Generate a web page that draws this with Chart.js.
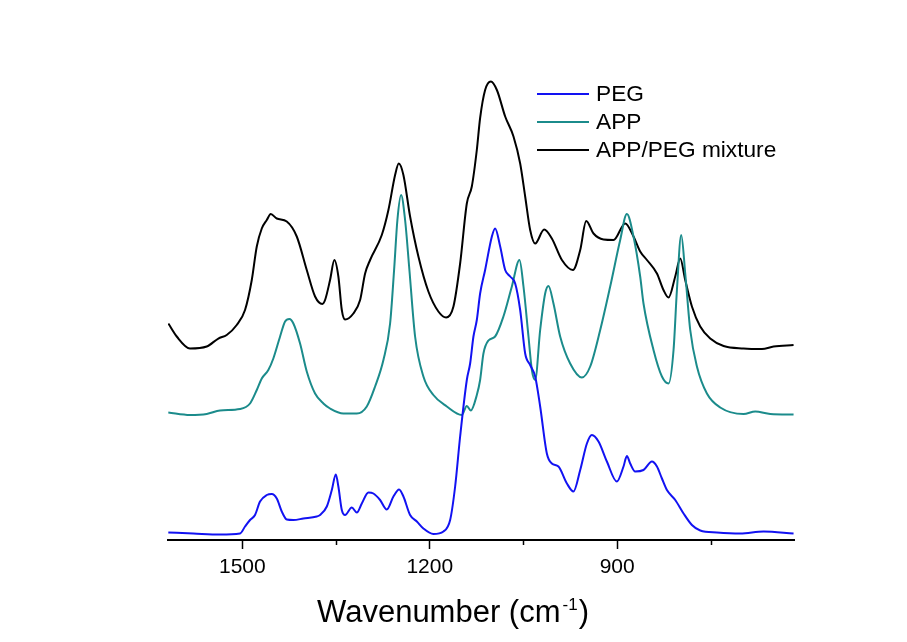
<!DOCTYPE html>
<html>
<head>
<meta charset="utf-8">
<script src="https://cdn.jsdelivr.net/npm/chart.js@4/dist/chart.umd.min.js"></script>
<style>
html,body{margin:0;padding:0;background:#ffffff;}
#wrap{width:907px;height:642px;position:relative;}
</style>
</head>
<body>
<div id="wrap"><canvas id="c" width="907" height="642"></canvas></div>
<script>
// ---- data ----
const seriesNames = ['PEG', 'APP', 'APP/PEG mixture'];

const pegWn = [1618.5,1578.5,1535.7,1503.7,1495.7,1487.7,1479.7,1471.7,1460.9,1452.9,1444.9,1436.9,1428.9,1418.3,1402.3,1380.9,1375.6,1364.8,1356.8,1350.4,1346.3,1340.8,1335.6,1324.8,1316.8,1308.8,1298.2,1290.2,1279.5,1268.8,1258.2,1249.1,1242.2,1231.5,1220.7,1210.2,1194.2,1178.1,1167.4,1159.4,1151.4,1140.7,1135.4,1130.1,1124.7,1119.4,1111.4,1100.6,1095.4,1087.3,1079.3,1071.3,1063.3,1055.3,1047.3,1039.3,1031.3,1023.3,1012.6,1004.6,994.0,980.5,970.0,959.2,948.5,940.5,929.9,916.5,900.5,889.9,884.5,879.2,871.2,857.9,844.4,836.4,828.4,820.4,807.1,793.8,780.4,767.1,740.4,703.0,665.7,617.7];
const pegAbs = [1.5,1.3,1.1,1.3,2.7,4.0,5.0,7.7,9.0,9.2,8.3,5.7,4.1,4.0,4.3,4.7,5.0,6.7,10.0,13.1,10.7,6.0,5.0,6.5,5.5,7.3,9.5,9.3,8.0,6.1,8.7,10.1,8.7,5.0,3.7,2.3,1.2,1.7,4.0,10.7,20.7,32.0,35.3,40.7,44.0,49.3,54.0,60.7,62.3,58.7,54.0,52.7,51.3,46.0,37.3,35.0,32.7,26.7,17.3,15.3,14.7,11.3,9.7,14.0,19.3,21.0,19.7,15.7,11.7,14.7,16.8,15.3,13.7,14.0,15.7,14.7,12.3,10.0,8.0,5.3,3.0,1.9,1.5,1.3,1.7,1.3];

const appWn = [1618.5,1583.8,1557.0,1535.7,1503.7,1487.7,1476.9,1468.9,1458.4,1450.4,1439.6,1431.6,1424.7,1418.3,1407.6,1396.9,1383.6,1370.3,1359.6,1338.3,1316.8,1300.8,1287.5,1274.2,1263.5,1257.1,1251.8,1245.9,1239.5,1232.6,1223.5,1210.2,1194.2,1172.7,1148.7,1140.7,1134.3,1124.7,1119.4,1114.1,1106.1,1095.4,1082.1,1068.6,1056.4,1050.0,1042.0,1036.6,1031.3,1023.3,1015.3,1010.0,1002.0,991.3,975.3,956.5,943.2,927.2,911.2,895.2,884.5,873.9,863.2,857.9,841.9,828.4,817.8,809.8,804.4,797.5,791.1,783.1,772.4,756.4,735.1,697.7,679.0,655.0,617.7];
const appAbs = [25.5,25.0,25.2,25.9,26.2,27.3,30.0,32.3,34.0,36.3,40.7,43.7,44.2,43.3,39.3,33.7,29.3,27.3,26.3,25.3,25.3,26.7,30.7,36.0,43.3,54.0,64.0,69.0,64.0,54.0,40.7,32.7,29.0,26.7,25.0,26.8,25.9,29.0,32.0,37.3,39.9,40.7,44.7,50.7,56.0,50.7,40.7,34.0,32.0,42.0,49.3,50.8,47.3,40.7,35.3,32.5,34.7,42.0,50.7,60.0,65.2,60.7,52.7,47.3,38.0,32.7,31.3,38.0,50.0,61.0,53.3,42.0,34.7,29.3,26.5,25.2,25.7,25.2,25.1];

const mixWn = [1618.5,1605.0,1583.8,1557.0,1538.4,1525.0,1509.0,1495.7,1484.9,1476.9,1468.9,1460.9,1454.5,1444.9,1428.9,1412.9,1396.9,1383.6,1371.9,1367.6,1359.6,1352.7,1346.3,1340.8,1335.6,1322.3,1311.5,1303.5,1295.5,1276.8,1266.2,1255.5,1249.6,1242.2,1231.5,1218.2,1202.2,1186.2,1173.8,1162.1,1151.4,1140.7,1132.7,1124.7,1119.4,1111.4,1102.2,1092.6,1079.3,1066.0,1055.3,1047.3,1039.3,1031.3,1016.9,1004.6,988.5,970.9,959.2,949.6,937.9,921.9,905.9,887.2,873.9,863.2,852.4,836.4,825.9,817.8,807.1,799.1,791.1,780.4,767.1,751.1,729.7,697.7,668.3,649.7,617.7];
const mixAbs = [43.3,40.7,38.3,38.7,40.3,41.0,43.0,46.0,52.0,58.7,62.3,64.0,65.2,64.3,63.7,60.7,54.0,48.7,47.2,48.0,52.0,56.0,52.7,46.0,44.1,45.3,48.0,53.3,56.0,61.0,66.0,73.0,75.3,73.0,64.7,56.7,49.7,45.7,44.5,46.7,55.3,67.3,70.7,78.0,84.4,90.0,91.7,90.0,84.7,80.7,75.3,68.7,62.0,59.3,62.1,60.3,56.0,54.0,58.0,63.8,61.3,60.1,60.0,63.3,60.7,57.7,56.0,53.3,50.0,48.5,52.7,56.3,52.0,46.7,42.7,40.3,38.8,38.3,38.2,38.7,39.0];

const majorTicks = [1500, 1200, 900];
const minorTicks = [1350, 1050, 750];
const xTitleMain = 'Wavenumber (cm';
const xTitleSup = '-1';
const xTitleEnd = ')';

// ---- chart ----
const FONT = '"Liberation Sans", Arial, Helvetica, sans-serif';
const colors = ['#1212f2', '#1b8b8b', '#000000'];
const toPts = (xs, ys) => xs.map((x, i) => ({ x: x, y: ys[i] }));

const decor = {
  id: 'decor',
  afterDraw(chart) {
    const ctx = chart.ctx;
    const area = chart.chartArea;
    const xs = chart.scales.x;
    ctx.save();
    // minor ticks
    ctx.strokeStyle = '#000';
    ctx.lineWidth = 1.5;
    minorTicks.forEach(v => {
      const px = Math.round(xs.getPixelForValue(v)) + 0.5;
      ctx.beginPath();
      ctx.moveTo(px, area.bottom);
      ctx.lineTo(px, area.bottom + 5);
      ctx.stroke();
    });
    // axis title with superscript
    ctx.fillStyle = '#000';
    ctx.textBaseline = 'alphabetic';
    ctx.textAlign = 'left';
    const big = '31px ' + FONT, small = '17px ' + FONT;
    ctx.font = big;
    const w1 = ctx.measureText(xTitleMain).width;
    const w3 = ctx.measureText(xTitleEnd).width;
    ctx.font = small;
    const w2 = ctx.measureText(xTitleSup).width;
    const total = w1 + 2 + w2 + 1 + w3;
    const cx = (area.left + area.right) / 2 - 28;
    let x0 = cx - total / 2;
    const base = area.bottom + 81.5;
    ctx.font = big;
    ctx.fillText(xTitleMain, x0, base);
    ctx.font = small;
    ctx.fillText(xTitleSup, x0 + w1 + 2, base - 12);
    ctx.font = big;
    ctx.fillText(xTitleEnd, x0 + w1 + 2 + w2 + 1, base);
    // legend
    ctx.font = '22.7px ' + FONT;
    ctx.textBaseline = 'middle';
    chart.data.datasets.forEach((ds, i) => {
      const y = area.top + 54 + i * 28;
      ctx.strokeStyle = ds.borderColor;
      ctx.lineWidth = 2;
      ctx.beginPath();
      ctx.moveTo(537, y);
      ctx.lineTo(589, y);
      ctx.stroke();
      ctx.fillStyle = '#000';
      ctx.fillText(ds.label, 596, y + 1);
    });
    ctx.restore();
  }
};

new Chart(document.getElementById('c').getContext('2d'), {
  type: 'line',
  data: {
    datasets: [
      { label: seriesNames[0], data: toPts(pegWn, pegAbs), borderColor: colors[0] },
      { label: seriesNames[1], data: toPts(appWn, appAbs), borderColor: colors[1] },
      { label: seriesNames[2], data: toPts(mixWn, mixAbs), borderColor: colors[2] }
    ]
  },
  options: {
    responsive: false,
    animation: false,
    devicePixelRatio: 1,
    elements: {
      point: { radius: 0 },
      line: { borderWidth: 2, cubicInterpolationMode: 'monotone', fill: false }
    },
    layout: { padding: { left: 168, right: 113, top: 40, bottom: 62 } },
    plugins: { legend: { display: false }, tooltip: { enabled: false } },
    scales: {
      x: {
        type: 'linear',
        reverse: true,
        min: 617,
        max: 1619,
        afterBuildTicks: s => {
          s.ticks = majorTicks.concat(minorTicks).sort((a, b) => b - a).map(v => ({ value: v }));
        },
        afterFit: s => { s.height = 40; },
        border: { display: true, color: '#000', width: 2 },
        grid: {
          display: true,
          drawOnChartArea: false,
          drawTicks: true,
          tickLength: 9,
          tickWidth: 1.5,
          tickColor: c => (c.tick && majorTicks.includes(c.tick.value)) ? '#000' : 'rgba(0,0,0,0)'
        },
        ticks: {
          padding: 6,
          color: '#000',
          autoSkip: false,
          maxRotation: 0,
          font: { family: FONT, size: 21 },
          callback: v => majorTicks.includes(v) ? String(v) : ''
        }
      },
      y: { display: false, min: 0, max: 100 }
    }
  },
  plugins: [decor]
});
</script>
</body>
</html>
